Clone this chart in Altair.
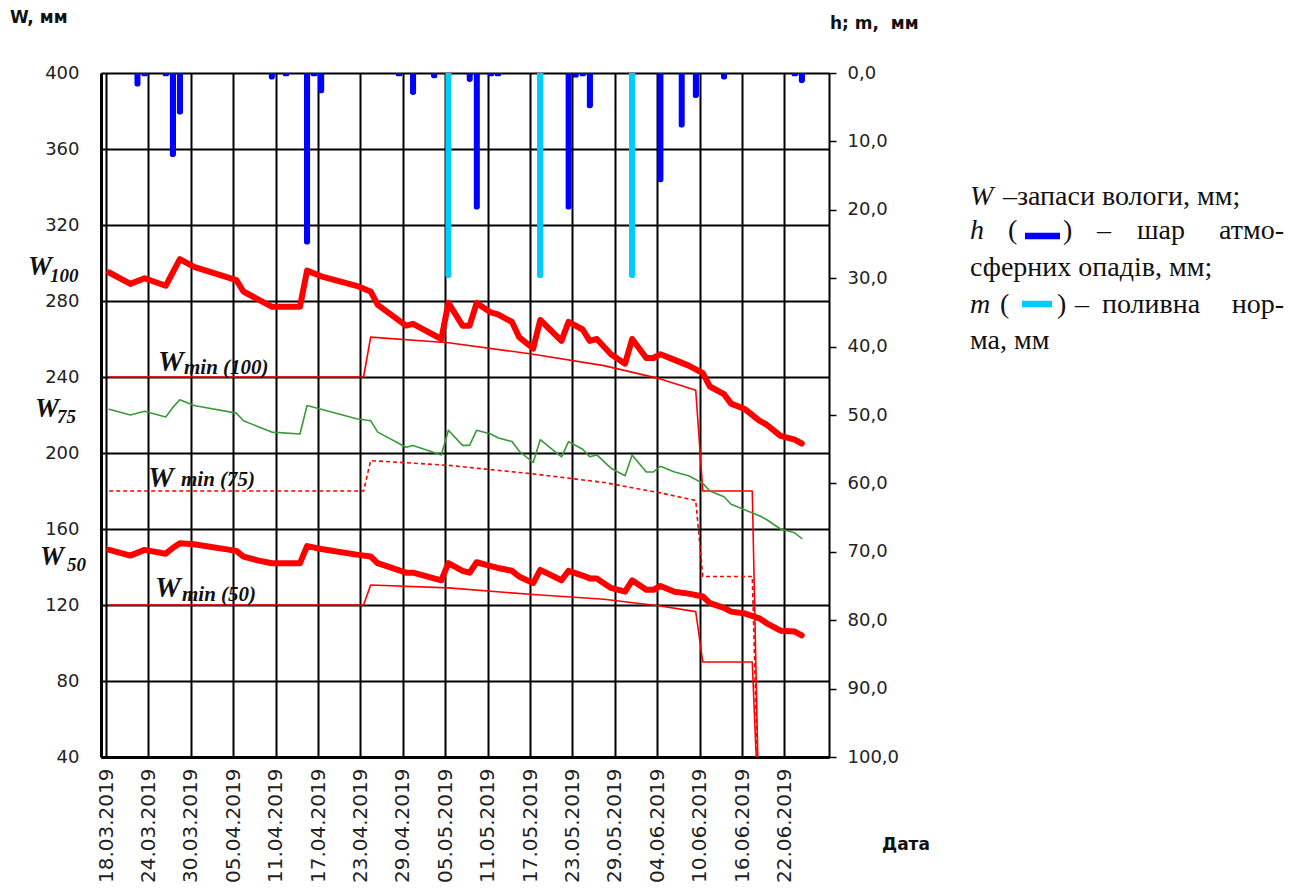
import altair as alt
import pandas as pd

# ---------------- data (days counted from 18.03.2019) ----------------
tick_days = [0, 6, 12, 18, 24, 30, 36, 42, 48, 54, 60, 66, 72, 78, 84, 90, 96]
w_ticks = [40, 80, 120, 160, 200, 240, 280, 320, 360, 400]
h_ticks = [0, 10, 20, 30, 40, 50, 60, 70, 80, 90, 100]

w_days = [0, 3, 5, 8, 9, 10, 12, 18, 19, 21, 23, 27, 28, 30, 35, 37, 38, 42, 43, 47,
          48, 50, 51, 52, 54, 55, 57, 58, 60, 61, 64, 65, 67, 68, 69, 71, 73, 74, 76, 77,
          78, 80, 82, 84, 85, 87, 88, 90, 92, 93, 95, 97, 98]
w100 = [295, 289, 292, 288, 295, 302, 298, 291, 285, 281, 277, 277, 296, 293, 288, 285, 278, 267, 268, 260,
        279, 267, 267, 279, 274, 273, 269, 261, 255, 270, 259, 269, 265, 259, 260, 252, 247, 260, 250, 250,
        252, 249, 246, 242, 235, 231, 226, 223, 217, 215, 209, 207, 205]
w75 = [223, 220, 222, 219, 224, 228, 225, 221, 217, 214, 211, 210, 225, 223, 218, 217, 211, 203, 204, 199,
       212, 204, 204, 212, 210, 208, 206, 201, 195, 207, 198, 206, 202, 198, 199, 192, 188, 199, 190, 190,
       193, 190, 188, 184, 180, 177, 173, 170, 167, 165, 160, 158, 155]
w50 = [149, 146, 149, 147, 150, 152.5, 152, 148.5, 145.5, 143.5, 142, 142, 151, 149.5, 146.5, 145.5, 142, 137, 137, 133,
       142, 138, 137, 142.5, 140.5, 139.5, 138, 135, 131.5, 138.5, 133, 138, 135.5, 134, 134, 129, 127, 133, 128, 128,
       130, 127, 126, 124.5, 121, 118.5, 116.5, 115.5, 113, 110.5, 106.5, 106, 104]

wmin_days = [0, 36, 37, 48, 60, 70, 78, 83, 84, 91, 92]
wmin100 = [240, 240, 261, 258, 252, 246, 239, 233, 180, 180, 0]
wmin75 = [180, 180, 196, 193.5, 189, 184.5, 179, 175, 135, 135, 0]
wmin50 = [120, 120, 130.5, 129, 125.5, 123, 119.5, 116.5, 90, 90, 0]

rain_days = [4, 5, 8, 9, 10, 23, 25, 28, 29, 30, 41, 43, 46, 51, 52, 54, 55,
             65, 66, 67, 68, 78, 81, 83, 87, 97, 98]
rain_h = [2.0, 0.5, 0.5, 12.3, 6.1, 1.0, 0.5, 25.1, 0.5, 3.0, 0.5, 3.2, 0.8, 1.3, 20.0, 0.5, 0.5,
          20.0, 0.7, 0.5, 5.2, 16.0, 8.0, 3.7, 1.0, 0.5, 1.5]
irr_days = [48, 61, 74]
irr_m = [30, 30, 30]

# ---------------- layout constants ----------------
SHIFT = 0.45          # daily values sit inside their day slot
PX0, PY0 = 101, 73    # page position of plot origin
W_PLOT, H_PLOT = 728, 684

w_df = pd.DataFrame({"x": [d + SHIFT for d in w_days], "W100": w100, "W75": w75, "W50": w50})
wmin_df = pd.DataFrame({"x": [d + SHIFT for d in wmin_days], "m100": wmin100, "m75": wmin75, "m50": wmin50})
rain_df = pd.DataFrame({"x": [d + SHIFT for d in rain_days], "h": rain_h})
irr_df = pd.DataFrame({"x": [d + SHIFT for d in irr_days], "h": irr_m})
one = pd.DataFrame({"k": [0]})

LAB_FONT = "DejaVu Sans"
x_axis = alt.Axis(values=tick_days,
                  labelExpr="timeFormat(datetime(2019, 2, 18 + datum.value), '%d.%m.%Y')",
                  labelAngle=270, labelAlign="right", labelBaseline="middle", labelPadding=11,
                  labelFont=LAB_FONT, labelFontSize=20, labelColor="#222",
                  labelOverlap=False, labelFlush=False,
                  grid=True, gridColor="#000", gridWidth=2,
                  domainColor="#000", domainWidth=3, ticks=False, title=None)
x_enc = alt.X("x:Q", scale=alt.Scale(domain=[0, 101.6], nice=False, zero=False), axis=x_axis)

y_axis = alt.Axis(values=w_ticks, labelFont=LAB_FONT, labelFontSize=18, labelColor="#222",
                  labelPadding=22, ticks=False, grid=True, gridColor="#000", gridWidth=2,
                  domainColor="#000", domainWidth=3, title=None, labelFlush=False)
y_scale = alt.Scale(domain=[40, 400], nice=False, zero=False)

h_axis = alt.Axis(orient="right", values=h_ticks,
                  labelExpr="replace(format(datum.value, '.1f'), '.', ',')",
                  labelFont=LAB_FONT, labelFontSize=18, labelColor="#222", labelPadding=11,
                  tickSize=7, tickColor="#000", tickWidth=1.5,
                  domainColor="#000", domainWidth=2, grid=False, title=None, labelFlush=False)
h_scale = alt.Scale(domain=[0, 100], reverse=True, nice=False, zero=True)


def wline(df, field, color, width, dash=None):
    kw = dict(color=color, strokeWidth=width, clip=True, strokeJoin="round", strokeCap="round")
    if dash:
        kw["strokeDash"] = dash
        kw["strokeCap"] = "butt"
    return alt.Chart(df).mark_line(**kw).encode(
        x=x_enc, y=alt.Y(f"{field}:Q", scale=y_scale, axis=y_axis))


lines = alt.layer(
    wline(wmin_df, "m100", "#ff0000", 1.6),
    wline(wmin_df, "m75", "#ff0000", 1.6, [4, 3]),
    wline(wmin_df, "m50", "#ff0000", 1.6),
    wline(w_df, "W75", "#3a9a3a", 1.6),
    wline(w_df, "W100", "#ff0000", 6),
    wline(w_df, "W50", "#ff0000", 6),
)


def hbar(df, color):
    return alt.Chart(df).mark_bar(width=6.5, color=color,
                                  cornerRadiusBottomLeft=3, cornerRadiusBottomRight=3).encode(
        x=x_enc, y=alt.Y("h:Q", scale=h_scale, axis=h_axis))


bars = alt.layer(hbar(rain_df, "#0000ff"), hbar(irr_df, "#00ccff"))


def txt(s, x, y, size, font="Liberation Serif", weight="normal", style="normal",
        color="#111", align="left", baseline="alphabetic"):
    return alt.Chart(one).mark_text(text=s, font=font, fontSize=size, fontWeight=weight,
                                    fontStyle=style, color=color, align=align,
                                    baseline=baseline).encode(
        x=alt.value(x - PX0), y=alt.value(y - PY0))


def swatch(x1, x2, y, color):
    return alt.Chart(one).mark_rule(color=color, strokeWidth=6.5).encode(
        x=alt.value(x1 - PX0), x2=alt.value(x2 - PX0), y=alt.value(y - PY0))


SER = "Liberation Serif"
LS = 28  # explanation text size
texts = [
    # axis titles
    txt("W, мм", 10, 18, 17, font=LAB_FONT, weight="bold", baseline="middle"),
    txt("h; m,\u00a0\u00a0мм", 830, 24, 17, font=LAB_FONT, weight="bold", baseline="middle"),
    txt("Дата", 882, 845, 17, font=LAB_FONT, weight="bold", baseline="middle"),
    # level labels on the left
    txt("W", 28, 275, 27, font=SER, weight="bold", style="italic"),
    txt("100", 50, 282, 19, font=SER, weight="bold", style="italic"),
    txt("W", 35, 417, 27, font=SER, weight="bold", style="italic"),
    txt("75", 57, 423, 19, font=SER, weight="bold", style="italic"),
    txt("W", 40, 565, 27, font=SER, weight="bold", style="italic"),
    txt("50", 67, 571, 19, font=SER, weight="bold", style="italic"),
    # W min labels inside the plot
    txt("W", 158, 371, 29, font=SER, weight="bold", style="italic"),
    txt("min (100)", 184, 374, 21, font=SER, weight="bold", style="italic"),
    txt("W", 148, 487, 29, font=SER, weight="bold", style="italic"),
    txt("min (75)", 181, 486, 21, font=SER, weight="bold", style="italic"),
    txt("W", 155, 597, 29, font=SER, weight="bold", style="italic"),
    txt("min (50)", 182, 601, 21, font=SER, weight="bold", style="italic"),
    # explanation text on the right
    txt("W", 970, 205, LS, font=SER, style="italic"),
    txt("–запаси вологи, мм;", 1003, 205, LS, font=SER),
    txt("h", 970, 239, LS, font=SER, style="italic"),
    txt("(", 1008, 239, LS, font=SER),
    swatch(1025, 1060, 236, "#0000ff"),
    txt(")", 1063, 239, LS, font=SER),
    txt("–", 1097, 239, LS, font=SER),
    txt("шар", 1137, 239, LS, font=SER),
    txt("атмо-", 1284, 239, LS, font=SER, align="right"),
    txt("сферних опадів, мм;", 970, 276, LS, font=SER),
    txt("m", 970, 313, LS, font=SER, style="italic"),
    txt("(", 1000, 313, LS, font=SER),
    swatch(1022, 1052, 304, "#00ccff"),
    txt(")", 1057, 313, LS, font=SER),
    txt("–", 1075, 313, LS, font=SER),
    txt("поливна", 1102, 313, LS, font=SER),
    txt("нор-", 1284, 313, LS, font=SER, align="right"),
    txt("ма, мм", 970, 349, LS, font=SER),
]

chart = alt.layer(bars, lines, *texts).resolve_scale(y="independent").properties(
    width=W_PLOT, height=H_PLOT,
    autosize=alt.AutoSizeParams(type="none"),
    padding={"left": 93, "top": 65, "right": 468, "bottom": 127},
    background="white",
).configure_view(stroke="#999", strokeWidth=1)

chart.save("out.html", embed_options={"renderer": "svg", "actions": False})
